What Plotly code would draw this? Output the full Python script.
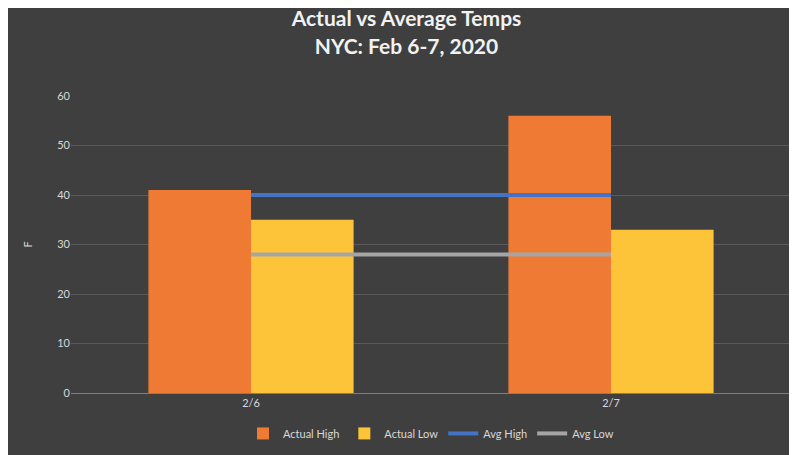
import plotly.graph_objects as go

dates = ["2/6", "2/7"]
actual_high = [41, 56]
actual_low = [35, 33]
avg_high = [40, 40]
avg_low = [28, 28]

fig = go.Figure()
fig.add_trace(go.Bar(x=dates, y=actual_high, name="Actual High",
                     marker=dict(color="#EE7A34", line=dict(width=0))))
fig.add_trace(go.Bar(x=dates, y=actual_low, name="Actual Low",
                     marker=dict(color="#FDC43A", line=dict(width=0))))
fig.add_trace(go.Scatter(x=dates, y=avg_high, name="Avg High", mode="lines",
                         line=dict(color="#4472C4", width=4)))
fig.add_trace(go.Scatter(x=dates, y=avg_low, name="Avg Low", mode="lines",
                         line=dict(color="#A5A5A5", width=4)))

fig.update_layout(
    width=797, height=455,
    paper_bgcolor="#3f3f3f", plot_bgcolor="#3f3f3f",
    font=dict(family="Lato", color="#d9d9d9", size=11),
    title=dict(text="<b>Actual vs Average Temps<br>NYC: Feb 6-7, 2020</b>",
               x=0.5, y=0.96, xanchor="center", yanchor="top",
               font=dict(size=21, color="#f2f2f2")),
    margin=dict(l=63, r=14, t=88, b=70, autoexpand=False),
    barmode="group", bargap=0.43, bargroupgap=0,
    legend=dict(orientation="h", x=0.5, xanchor="center", y=0.065, yanchor="middle",
                yref="container", font=dict(size=11, color="#d9d9d9")),
    xaxis=dict(showgrid=False, showline=True, linecolor="#7f7f7f", ticks="",
               automargin=False),
    yaxis=dict(range=[0, 60], dtick=10, gridcolor="#5a5a5a", zeroline=False,
               automargin=False,
               title=dict(text="F", font=dict(size=11), standoff=22), ticks=""),
)

fig.write_html("out.html")
